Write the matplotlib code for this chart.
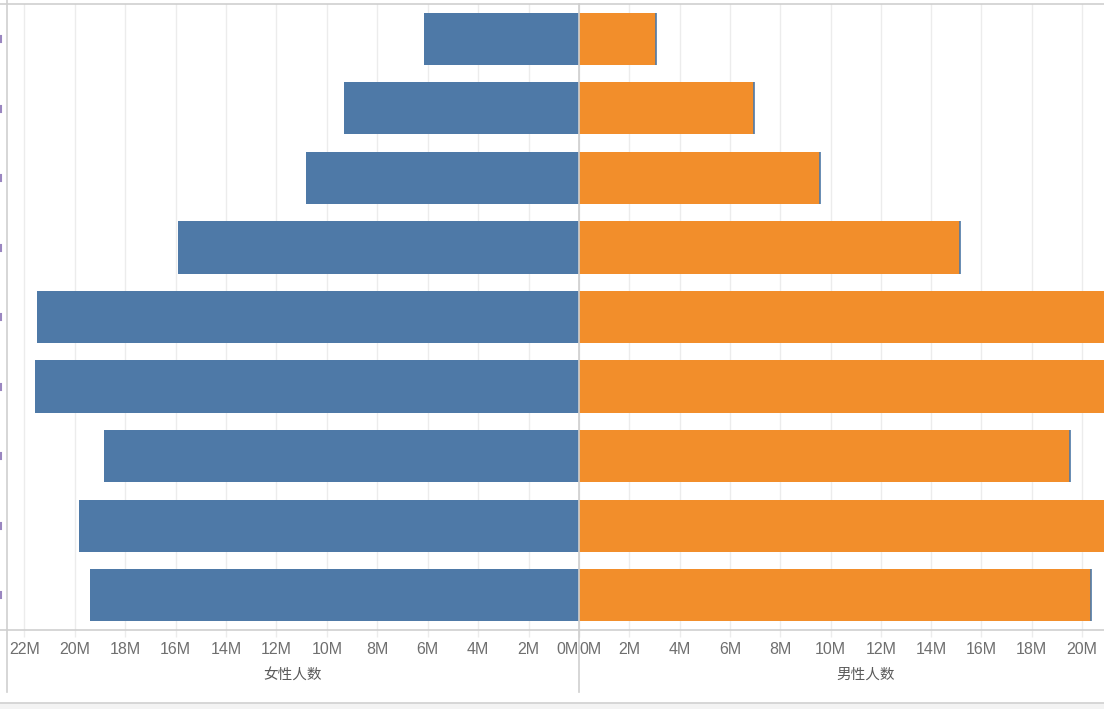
import matplotlib
matplotlib.use('Agg')
import matplotlib.pyplot as plt
from matplotlib.lines import Line2D
from matplotlib.patches import Rectangle
import numpy as np

# 年龄组 (top -> bottom) and population values in millions
age_groups = ['80岁以上', '70-79岁', '60-69岁', '50-59岁', '40-49岁',
              '30-39岁', '20-29岁', '10-19岁', '0-9岁']
female = [6.14, 9.31, 10.81, 15.92, 21.50, 21.58, 18.85, 19.84, 19.41]
male = [3.06, 6.96, 9.58, 15.15, 21.50, 21.60, 19.52, 21.20, 20.36]
ticks_female = [0, 2, 4, 6, 8, 10, 12, 14, 16, 18, 20, 22]
ticks_male = [0, 2, 4, 6, 8, 10, 12, 14, 16, 18, 20]

blue = '#4e79a7'
orange = '#f28e2b'
grid_c = '#ececec'
line_c = '#cfcfcf'
tick_c = '#6f6f6f'

W, H = 1104, 709
fig = plt.figure(figsize=(W / 100, H / 100), dpi=100)


def fx(px):
    return px / W


def fy(py):
    return 1 - py / H


top, bottom = 4, 630
ax_l = fig.add_axes([fx(7), fy(bottom), fx(579 - 7), (bottom - top) / H])
ax_r = fig.add_axes([fx(579), fy(bottom), fx(W - 579), (bottom - top) / H])

y = np.arange(len(age_groups))

ax_l.barh(y, female, height=0.75, color=blue, zorder=2)
ax_r.barh(y, male, height=0.75, color=orange, zorder=2)
ax_r.vlines(male, y - 0.375, y + 0.375, color=blue, lw=1.2, zorder=3)

for ax, tks in ((ax_l, ticks_female), (ax_r, ticks_male)):
    ax.set_yticks([])
    for s in ax.spines.values():
        s.set_visible(False)
    ax.set_xticks(tks)
    ax.set_xticklabels([f'{t}M' for t in tks])
    ax.tick_params(axis='x', length=5, width=1, color=grid_c, pad=4,
                   labelsize=11.5, labelcolor=tick_c)
    for lab in ax.get_xticklabels():
        lab.set_fontfamily('Liberation Sans')
    ax.grid(axis='x', color=grid_c, lw=1, zorder=0)
    ax.set_axisbelow(True)
    ax.patch.set_alpha(0)
    ax.set_ylim(len(age_groups) - 0.5, -0.5)

ax_l.set_xlim(22.69, 0)
ax_r.set_xlim(0, 20.87)

# 0M labels pushed inside their own panel
ax_l.get_xticklabels()[0].set_horizontalalignment('right')
ax_r.get_xticklabels()[0].set_horizontalalignment('left')

# remnants of the clipped row labels at the far left
for i in range(len(age_groups)):
    yc = 39 + i * 69.55
    fig.add_artist(Line2D([fx(1), fx(1)], [fy(yc - 3), fy(yc + 3)],
                          color='#9a86c0', lw=1.5, transform=fig.transFigure))

# axis titles
fig.text(fx(293), fy(675), '女性人数', ha='center', va='center', fontsize=10.5,
         color='#5a5a5a', family=['Noto Sans CJK SC', 'DejaVu Sans'])
fig.text(fx(866), fy(675), '男性人数', ha='center', va='center', fontsize=10.5,
         color='#5a5a5a', family=['Noto Sans CJK SC', 'DejaVu Sans'])

# frame lines
lines = [
    ([0, W], [top, top]),
    ([0, W], [bottom, bottom]),
    ([7, 7], [0, 692]),
    ([579, 579], [top, 692]),
    ([0, W], [703, 703]),
]
for xs, ys in lines:
    fig.add_artist(Line2D([fx(v) for v in xs], [fy(v) for v in ys],
                          color=line_c, lw=1.2, transform=fig.transFigure))
fig.add_artist(Rectangle((0, 0), 1, fy(704), color='#f3f3f3',
                         transform=fig.transFigure, zorder=-1))

fig.savefig('out.png', dpi=100)
